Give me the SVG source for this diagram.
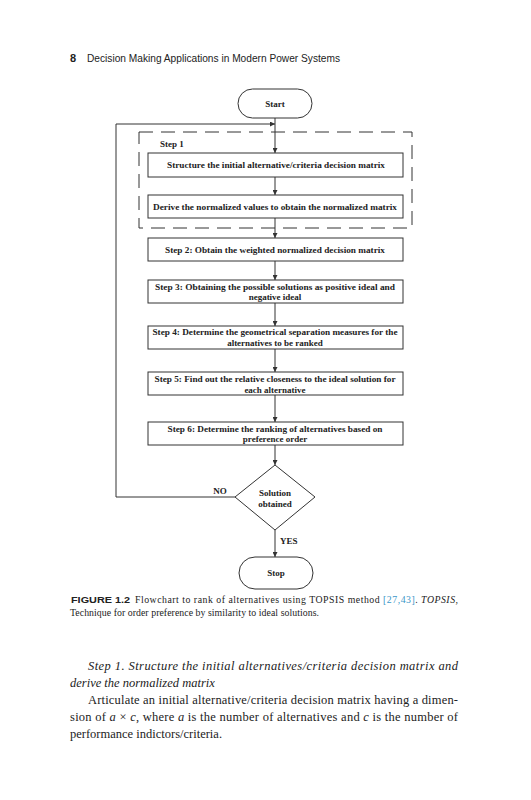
<svg xmlns="http://www.w3.org/2000/svg" width="531" height="800" viewBox="0 0 531 800">
<style>
.bg{fill:#fff}
.box{fill:#fff;stroke:#333;stroke-width:1}
.ln{fill:none;stroke:#333;stroke-width:1}
.dash{fill:none;stroke:#333;stroke-width:1;stroke-dasharray:14 8}
.ft{font-family:"Liberation Serif","Times New Roman",serif;font-weight:bold;font-size:9px;fill:#222}
.hd{font-family:"Liberation Sans",Arial,sans-serif;font-size:11px;fill:#222}
.cap{font-family:"Liberation Serif","Times New Roman",serif;font-size:9.8px;fill:#222}
.capb{font-family:"Liberation Sans",Arial,sans-serif;font-weight:bold;font-size:9.8px;fill:#222}
.body{font-family:"Liberation Serif","Times New Roman",serif;font-size:12.5px;fill:#222}
.it{font-style:italic}
.link{fill:#3a96c8}
</style>
<defs>
<marker id="ah" viewBox="0 0 6 6" refX="6" refY="3" markerWidth="5" markerHeight="5" orient="auto" markerUnits="userSpaceOnUse">
<path d="M0,0 L6,3 L0,6 Z" fill="#333"/>
</marker>
</defs>
<rect class="bg" x="0" y="0" width="531" height="800"/>

<g id="header">
<text class="hd" x="70" y="62" font-weight="bold">8</text>
<text class="hd" x="87" y="62" textLength="253" lengthAdjust="spacingAndGlyphs">Decision Making Applications in Modern Power Systems</text>
</g>

<g id="connectors">
<line class="ln" x1="275" y1="118" x2="275" y2="153" marker-end="url(#ah)"/>
<polyline class="ln" points="235,497 116,497 116,124 275,124" marker-end="url(#ah)"/>
<line class="ln" x1="275" y1="177" x2="275" y2="195" marker-end="url(#ah)"/>
<line class="ln" x1="275" y1="218" x2="275" y2="238" marker-end="url(#ah)"/>
<line class="ln" x1="275" y1="261" x2="275" y2="280" marker-end="url(#ah)"/>
<line class="ln" x1="275" y1="303" x2="275" y2="326" marker-end="url(#ah)"/>
<line class="ln" x1="275" y1="349" x2="275" y2="372" marker-end="url(#ah)"/>
<line class="ln" x1="275" y1="395" x2="275" y2="422" marker-end="url(#ah)"/>
<line class="ln" x1="275" y1="445" x2="275" y2="465" marker-end="url(#ah)"/>
<line class="ln" x1="275" y1="530" x2="275" y2="557" marker-end="url(#ah)"/>
<text class="ft" x="220" y="494" text-anchor="middle">NO</text>
<text class="ft" x="280" y="544">YES</text>
</g>

<g id="start">
<rect class="box" x="238" y="89" width="74" height="29" rx="14.5" ry="14.5"/>
<text class="ft" x="275" y="106.5" text-anchor="middle">Start</text>
</g>

<g id="step1-group">
<rect class="dash" x="139" y="132" width="273" height="96"/>
<text class="ft" x="160" y="146.5">Step 1</text>
</g>

<g id="box1">
<rect class="box" x="148" y="153" width="255" height="24"/>
<text class="ft" x="276" y="168" text-anchor="middle" textLength="218" lengthAdjust="spacingAndGlyphs">Structure the initial alternative/criteria decision matrix</text>
</g>

<g id="box2">
<rect class="box" x="148" y="195" width="255" height="23"/>
<text class="ft" x="275" y="210" text-anchor="middle" textLength="244" lengthAdjust="spacingAndGlyphs">Derive the normalized values to obtain the normalized matrix</text>
</g>

<g id="step2">
<rect class="box" x="148" y="238" width="255" height="23"/>
<text class="ft" x="275" y="252.5" text-anchor="middle" textLength="220" lengthAdjust="spacingAndGlyphs">Step 2: Obtain the weighted normalized decision matrix</text>
</g>

<g id="step3">
<rect class="box" x="148" y="280" width="255" height="23"/>
<text class="ft" x="275" y="289.5" text-anchor="middle" textLength="240" lengthAdjust="spacingAndGlyphs">Step 3: Obtaining the possible solutions as positive ideal and</text>
<text class="ft" x="275" y="299.5" text-anchor="middle">negative ideal</text>
</g>

<g id="step4">
<rect class="box" x="148" y="326" width="255" height="23"/>
<text class="ft" x="275" y="335" text-anchor="middle" textLength="245" lengthAdjust="spacingAndGlyphs">Step 4: Determine the geometrical separation measures for the</text>
<text class="ft" x="275" y="345.5" text-anchor="middle">alternatives to be ranked</text>
</g>

<g id="step5">
<rect class="box" x="148" y="372" width="255" height="23"/>
<text class="ft" x="275" y="382" text-anchor="middle" textLength="241" lengthAdjust="spacingAndGlyphs">Step 5: Find out the relative closeness to the ideal solution for</text>
<text class="ft" x="275" y="392.5" text-anchor="middle">each alternative</text>
</g>

<g id="step6">
<rect class="box" x="148" y="422" width="255" height="23"/>
<text class="ft" x="275" y="431.5" text-anchor="middle" textLength="215" lengthAdjust="spacingAndGlyphs">Step 6: Determine the ranking of alternatives based on</text>
<text class="ft" x="275" y="442" text-anchor="middle">preference order</text>
</g>

<g id="decision">
<polygon class="box" points="275,465 315,497 275,530 235,497"/>
<text class="ft" x="275" y="496" text-anchor="middle">Solution</text>
<text class="ft" x="275" y="507" text-anchor="middle">obtained</text>
</g>

<g id="stop">
<rect class="box" x="239" y="557" width="74" height="32" rx="16" ry="16"/>
<text class="ft" x="276" y="576" text-anchor="middle">Stop</text>
</g>

<g id="caption">
<text class="capb" x="71" y="603" textLength="59" lengthAdjust="spacingAndGlyphs">FIGURE 1.2</text>
<text class="cap" x="135" y="603" textLength="323" lengthAdjust="spacing">Flowchart to rank of alternatives using TOPSIS method <tspan class="link">[27,43]</tspan>. <tspan class="it">TOPSIS</tspan>,</text>
<text class="cap" x="70" y="615.5" textLength="249" lengthAdjust="spacing">Technique for order preference by similarity to ideal solutions.</text>
</g>

<g id="body">
<text class="body it" x="88" y="670" textLength="370" lengthAdjust="spacing">Step 1. Structure the initial alternatives/criteria decision matrix and</text>
<text class="body it" x="70" y="687">derive the normalized matrix</text>
<text class="body" x="88" y="704" textLength="370" lengthAdjust="spacing">Articulate an initial alternative/criteria decision matrix having a dimen-</text>
<text class="body" x="70" y="721" textLength="388" lengthAdjust="spacing">sion of <tspan class="it">a</tspan> × <tspan class="it">c</tspan>, where <tspan class="it">a</tspan> is the number of alternatives and <tspan class="it">c</tspan> is the number of</text>
<text class="body" x="70" y="738">performance indictors/criteria.</text>
</g>
</svg>
